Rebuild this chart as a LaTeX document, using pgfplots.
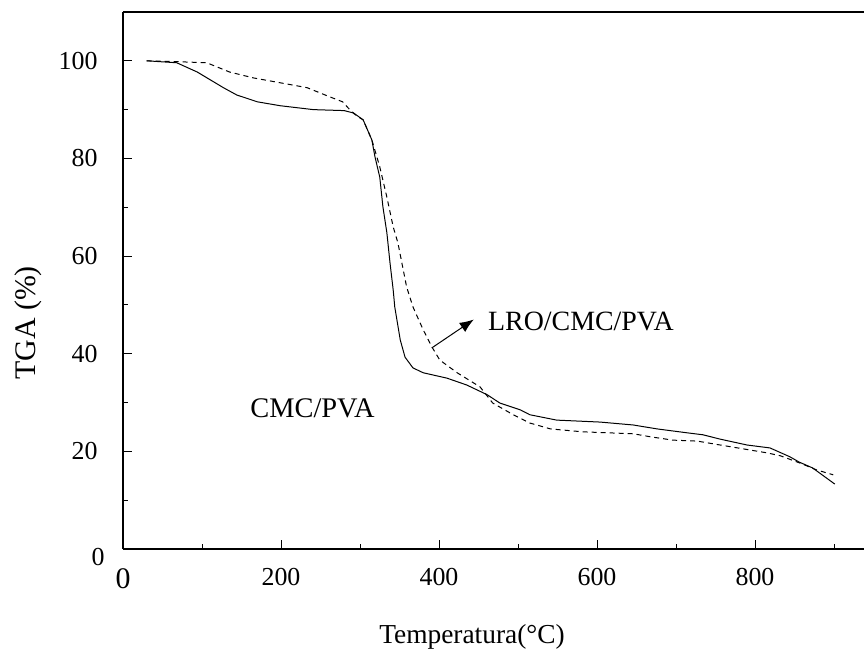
\documentclass[border=0pt]{standalone}
\usepackage{pgfplots}
\pgfplotsset{compat=1.18}
\usepackage{fontspec}
\setmainfont{Liberation Serif}
\usetikzlibrary{arrows.meta}
\begin{document}
\begin{tikzpicture}[x=1bp,y=1bp]
\path[use as bounding box] (-123,-104) rectangle (741,549);
\begin{axis}[
  at={(0,0)}, anchor=south west,
  scale only axis, width=741bp, height=537bp,
  xmin=0, xmax=938, ymin=0, ymax=110,
  axis x line*=bottom, axis y line*=left,
  axis line style={line width=1.1pt, -},
  tick align=inside,
  major tick length=9bp, minor tick length=5bp,
  tick style={line width=0.9pt, black},
  xtick={0,200,400,600,800},
  xticklabels={{\fontsize{30}{30}\selectfont 0},200,400,600,800},
  minor xtick={100,300,500,700,900},
  ytick={0,20,40,60,80,100},
  yticklabels={{\raisebox{-17bp}[0pt][0pt]{0\hspace{-7bp}}},20,40,60,80,100},
  minor ytick={10,30,50,70,90},
  ticklabel style={font=\fontsize{26}{26}\selectfont},
  every x tick label/.append style={yshift=-16bp},
  every y tick label/.append style={xshift=-22bp},
  xlabel={Temperatura(°C)},
  ylabel={TGA (\%)},
  xlabel style={font=\fontsize{27.5}{27.5}\selectfont, at={(axis description cs:0.471,-0.164)}, anchor=center},
  ylabel style={font=\fontsize{30}{30}\selectfont, at={(axis description cs:-0.128,0.421)}, anchor=center, rotate=0},
  clip=false,
]
\addplot[black, line width=1pt] coordinates {
(30,100) (68,99.6) (94,97.7) (127,94.5) (144,93.0) (170,91.6) (199,90.8)
(241,90.0) (280,89.8) (292,89.3) (304,87.9) (315,83.8) (319,80.3) (325,76.2)
(329,70.1) (334,64.8) (338,58.6) (342,53.1) (344,49.6) (351,42.8) (357,39.3)
(367,37.1) (380,36.1) (410,35.0) (435,33.6) (461,31.6) (477,29.9) (503,28.5)
(515,27.5) (549,26.4) (604,26.0) (646,25.4) (676,24.6) (714,23.8) (734,23.4)
(756,22.5) (790,21.3) (819,20.7) (844,18.9) (856,17.8) (873,16.6) (901,13.3)
};
\addplot[black, line width=1pt, dash pattern=on 5bp off 4bp] coordinates {
(30,100) (72,99.8) (106,99.6) (135,97.7) (165,96.5) (199,95.5) (233,94.5)
(262,92.6) (278,91.6) (287,90.0) (295,88.8) (304,87.9) (315,83.8) (325,78.3)
(334,72.1) (342,66.0) (348,62.7) (353,58.6) (359,53.7) (367,49.6) (380,44.9)
(391,41.4) (401,38.7) (423,36.1) (452,33.2) (468,29.9) (494,27.5) (515,25.8)
(541,24.6) (582,24.0) (646,23.6) (667,23.0) (696,22.3) (727,22.1) (756,21.3)
(815,19.7) (832,19.1) (857,17.6) (878,16.2) (899,15.2)
};
\draw[line width=1.3pt] (rel axis cs:0,1) -- (rel axis cs:1,1);
\draw[line width=1pt, -{Latex[length=14bp,width=11bp]}] (axis cs:391,41.2) -- (axis cs:444,47.0);
\node[anchor=west, font=\fontsize{28}{28}\selectfont, inner sep=0pt] at (axis cs:462,46.6) {LRO/CMC/PVA};
\node[anchor=west, font=\fontsize{28.5}{28.5}\selectfont, inner sep=0pt] at (axis cs:161,28.9) {CMC/PVA};
\end{axis}
\end{tikzpicture}
\end{document}
